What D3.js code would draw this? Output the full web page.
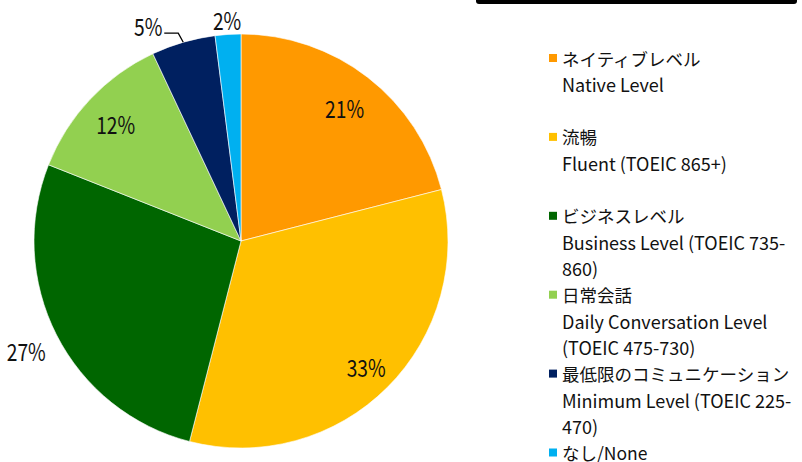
<!DOCTYPE html>
<html>
<head>
<meta charset="utf-8">
<script src="https://cdn.jsdelivr.net/npm/d3@7"></script>
<style>
  body { margin: 0; background: #fff; }
  text { font-family: "Noto Sans CJK JP", sans-serif; fill: #111; }
</style>
</head>
<body>
<script>
// English skill levels pie

const categories = ["ネイティブレベル", "流暢", "ビジネスレベル", "日常会話", "最低限のコミュニケーション", "なし/None"];
const subLabels = [
  ["Native Level"],
  ["Fluent (TOEIC 865+)"],
  ["Business Level (TOEIC 735-", "860)"],
  ["Daily Conversation Level", "(TOEIC 475-730)"],
  ["Minimum Level (TOEIC 225-", "470)"],
  []
];
const values = [21, 33, 27, 12, 5, 2];
const percentLabels = ["21%", "33%", "27%", "12%", "5%", "2%"];

const colors = ["#FF9900", "#FFC000", "#006600", "#92D050", "#002060", "#00B0F0"];

const width = 802, height = 462;
const cx = 241, cy = 241, radius = 207;

const svg = d3.select("body").append("svg")
    .attr("width", width)
    .attr("height", height);

// black box cut off at the top right
svg.append("rect")
    .attr("x", 476).attr("y", -20)
    .attr("width", 321).attr("height", 24)
    .attr("rx", 3)
    .style("fill", "#000");

const pie = d3.pie().sort(null).value(d => d);
const arcs = pie(values);
const arc = d3.arc().innerRadius(0).outerRadius(radius);

const g = svg.append("g").attr("transform", "translate(" + cx + "," + cy + ")");

g.selectAll(".slice")
    .data(arcs)
    .enter()
    .append("path")
    .attr("class", "slice")
    .attr("d", arc)
    .style("fill", (d, i) => colors[i])
    .style("stroke", "#fff")
    .style("stroke-width", 0.6);

// label radius per slice (Excel "best fit" put some outside)
const labelR = [169, 177, 241, 172, 0, 222];
const edgeArc = d3.arc().innerRadius(radius).outerRadius(radius);

// leader line for the 5% slice, label sits at its end
const edge = edgeArc.centroid(arcs[4]);
const lineEnd = [edge[0] - 19, edge[1] - 9];
g.append("polyline")
    .attr("points", [edge, [edge[0] - 5, edge[1] - 9], lineEnd].map(p => p.join(",")).join(" "))
    .style("fill", "none")
    .style("stroke", "#000")
    .style("stroke-width", 1.3);

function labelPos(d, i) {
  if (i === 4) return [lineEnd[0] - 16, lineEnd[1] - 8];
  return d3.arc().innerRadius(labelR[i]).outerRadius(labelR[i]).centroid(d);
}

g.selectAll(".pct")
    .data(arcs)
    .enter()
    .append("text")
    .attr("class", "pct")
    .attr("transform", (d, i) => "translate(" + labelPos(d, i) + ") scale(0.8,1)")
    .attr("text-anchor", "middle")
    .attr("dominant-baseline", "central")
    .style("font-size", "24px")
    .text((d, i) => percentLabels[i]);

// legend
const lineH = 26.3;
const legend = svg.append("g").attr("transform", "translate(549,58)");
let row = 0;
categories.forEach((c, i) => {
  const y = row * lineH;
  legend.append("rect")
      .attr("x", 0).attr("y", y - 4)
      .attr("width", 8).attr("height", 8)
      .style("fill", colors[i]);
  legend.append("text")
      .attr("x", 13).attr("y", y)
      .attr("dominant-baseline", "central")
      .style("font-size", "17.5px")
      .text(c);
  subLabels[i].forEach((s, j) => {
    legend.append("text")
        .attr("x", 13).attr("y", y + (j + 1) * lineH)
        .attr("dominant-baseline", "central")
        .style("font-size", "18px")
        .text(s);
  });
  row += 3;
});
</script>
</body>
</html>
